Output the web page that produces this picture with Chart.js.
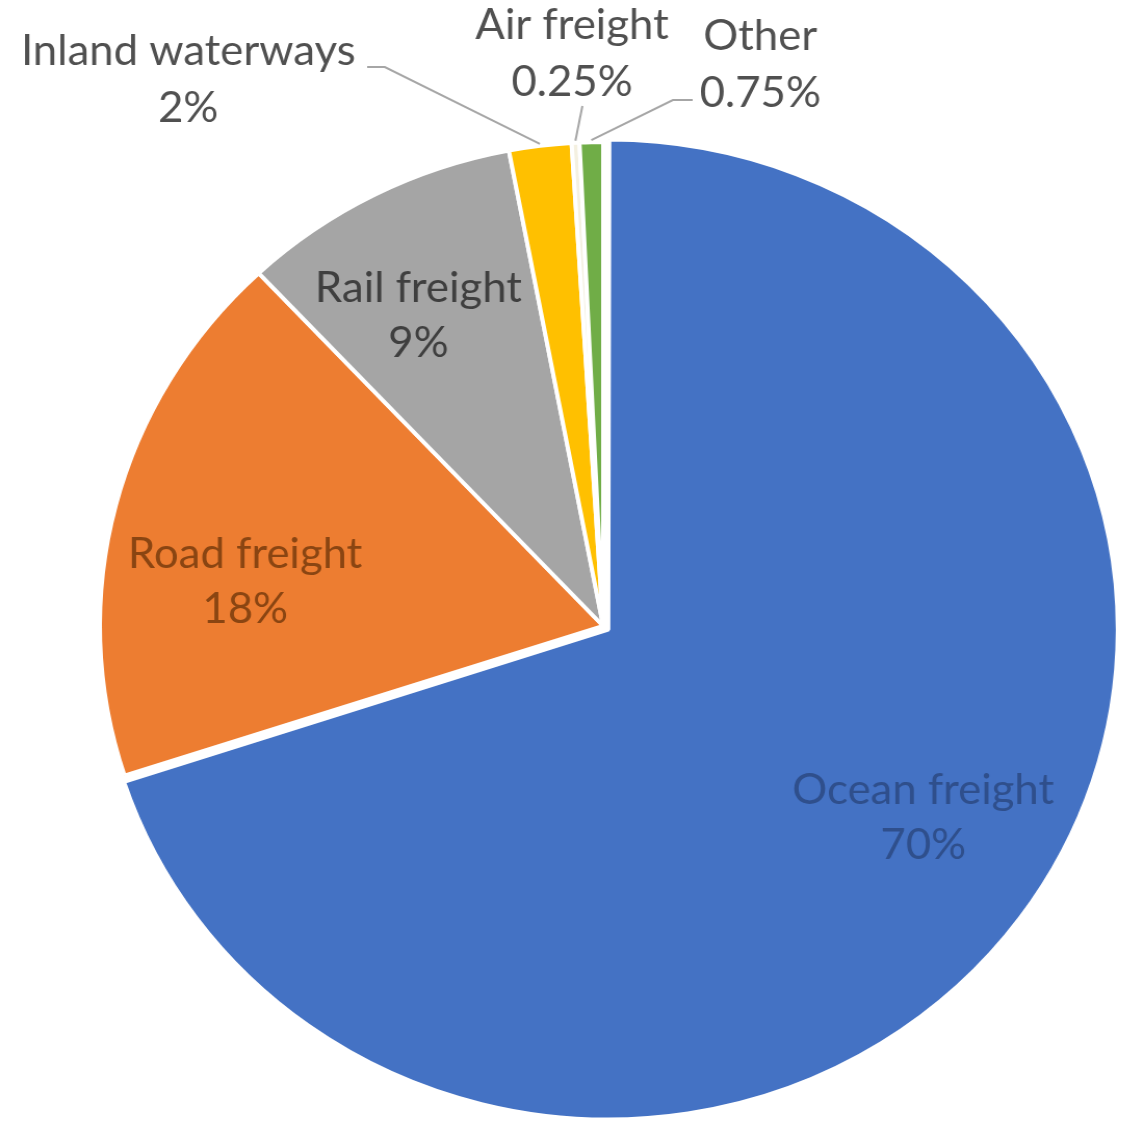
<!DOCTYPE html>
<html>
<head>
<meta charset="utf-8">
<script src="https://cdn.jsdelivr.net/npm/chart.js@4/dist/chart.umd.min.js"></script>
<style>
  html, body { margin: 0; padding: 0; background: #fff; overflow: hidden; }
  /* the source picture is a little wider than tall, so stretch the canvas sideways */
  #wrap { width: 1079px; height: 1122px; transform: scaleX(1.04); transform-origin: 0 0; }
</style>
</head>
<body>
<div id="wrap"><canvas id="freightChart"></canvas></div>
<script>
// data
const modes = ['Ocean freight', 'Road freight', 'Rail freight', 'Inland waterways', 'Air freight', 'Other'];
const shares = [70, 18, 9, 2, 0.25, 0.75];
const shareLabels = ['70%', '18%', '9%', '2%', '0.25%', '0.75%'];

// look
const sliceColors = ['#4472C4', '#ED7D31', '#A5A5A5', '#FFC000', '#F4F0E0', '#70AD47'];
const textColors = ['#2F4F8C', '#8A4512', '#3F3F3F', '#505050', '#505050', '#505050'];
const FONT = '42px Lato, "Open Sans", sans-serif';
const LINE_GAP = 55;

// nudges for the labels that sit inside their slice (like Excel's best fit)
const insideNudge = { 0: [16, -20], 1: [5, 46], 2: [-14, 11] };

// callouts for the thin slices (label centre + elbow of leader line)
const callouts = {
    3: { x: 181, y: 51, elbow: [370, 67], end: [353, 67] },
    4: { x: 550, y: 25, elbow: [560, 106], end: [560, 106] },
    5: { x: 731, y: 36, elbow: [647, 100], end: [666, 100] }
};

const labelPlugin = {
    id: 'sliceLabels',
    afterDatasetsDraw(chart) {
        const ctx = chart.ctx;
        const meta = chart.getDatasetMeta(0);
        ctx.save();
        ctx.font = FONT;
        ctx.textAlign = 'center';
        ctx.textBaseline = 'middle';
        meta.data.forEach((arc, i) => {
            const p = arc.getProps(['x', 'y', 'startAngle', 'endAngle', 'outerRadius'], true);
            const mid = (p.startAngle + p.endAngle) / 2;
            const c = callouts[i];
            ctx.fillStyle = textColors[i];
            if (!c) {
                // label inside the slice
                const r = p.outerRadius * 0.745;
                const n = insideNudge[i] || [0, 0];
                const lx = p.x + Math.cos(mid) * r + n[0];
                const ly = p.y + Math.sin(mid) * r + n[1];
                ctx.fillText(modes[i], lx, ly - LINE_GAP / 2);
                ctx.fillText(shareLabels[i], lx, ly + LINE_GAP / 2);
                return;
            }
            // leader line from slice edge
            const ex = p.x + Math.cos(mid) * (p.outerRadius + 2);
            const ey = p.y + Math.sin(mid) * (p.outerRadius + 2);
            ctx.strokeStyle = '#A6A6A6';
            ctx.lineWidth = 2;
            ctx.beginPath();
            ctx.moveTo(ex, ey);
            ctx.lineTo(c.elbow[0], c.elbow[1]);
            ctx.lineTo(c.end[0], c.end[1]);
            ctx.stroke();
            ctx.fillText(modes[i], c.x, c.y);
            ctx.fillText(shareLabels[i], c.x, c.y + LINE_GAP + 2);
        });
        ctx.restore();
    }
};

const ctx = document.getElementById('freightChart').getContext('2d');

const freightChart = new Chart(ctx, {
    type: 'pie',
    data: {
        labels: modes,
        datasets: [{
            data: shares,
            backgroundColor: sliceColors,
            borderColor: '#FFFFFF',
            borderWidth: 4,
            offset: [24, 0, 0, 0, 0, 0], // ocean slice pulled out a little
            radius: 484
        }]
    },
    options: {
        responsive: true,
        maintainAspectRatio: false,
        animation: false,
        events: [],
        layout: {
            padding: { left: 90, right: 9, top: 130, bottom: 0 }
        },
        plugins: {
            legend: { display: false },
            tooltip: { enabled: false }
        }
    },
    plugins: [labelPlugin]
});
</script>
</body>
</html>
